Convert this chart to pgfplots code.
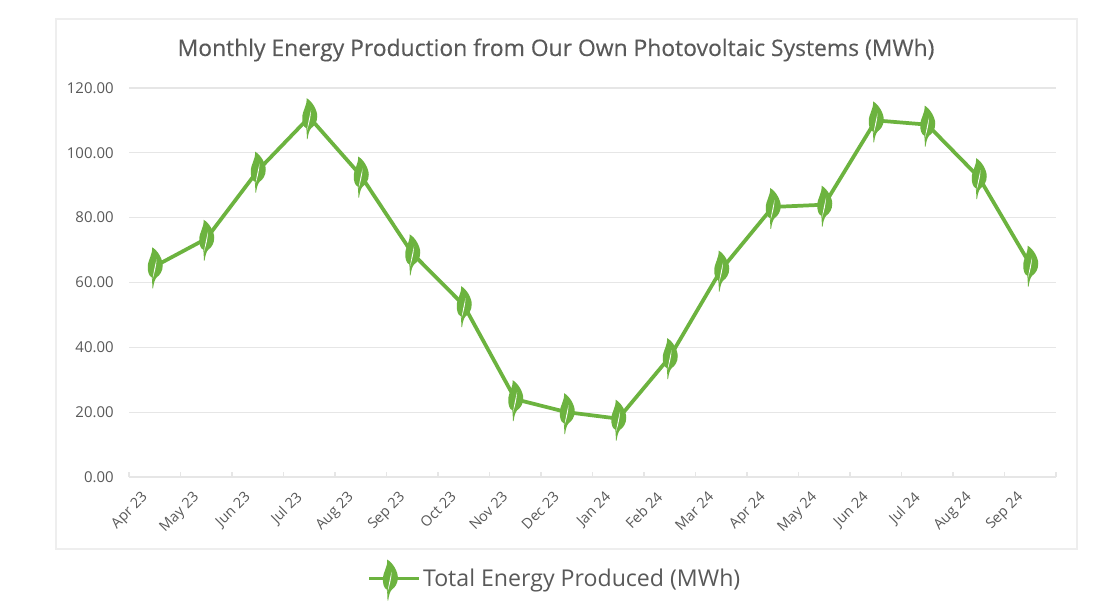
\documentclass[border=0pt]{standalone}
\usepackage{fontspec}
\usepackage{pgfplots}
\pgfplotsset{compat=1.18}
\setmainfont{Open Sans}
\definecolor{leafgreen}{HTML}{6CB33F}
\definecolor{txt}{HTML}{595959}
\definecolor{gridc}{HTML}{E6E6E6}
\definecolor{panel}{HTML}{EEEEEE}
\newcommand{\lp}[2]{\pgfpoint{#1*0.75pt}{#2*0.75pt}}
% leaf marker, coordinates in reference pixels around the data point
\pgfdeclareplotmark{leaf}{%
  \pgftransformshift{\lp{0}{-1}}%
  \pgfsetfillcolor{leafgreen}%
  \pgfpathmoveto{\lp{-2.7}{20}}%
  \pgfpathcurveto{\lp{3}{17}}{\lp{8}{8}}{\lp{8}{2}}%
  \pgfpathcurveto{\lp{8}{-4}}{\lp{5}{-8}}{\lp{2}{-10}}%
  \pgfpathcurveto{\lp{0}{-12}}{\lp{-1}{-16}}{\lp{-1.7}{-21}}%
  \pgfpathlineto{\lp{-2.3}{-21}}%
  \pgfpathcurveto{\lp{-2.5}{-17}}{\lp{-2.5}{-13}}{\lp{-3}{-10}}%
  \pgfpathcurveto{\lp{-6}{-9}}{\lp{-7}{-4}}{\lp{-7}{0}}%
  \pgfpathcurveto{\lp{-7}{8}}{\lp{-2}{12}}{\lp{-2.7}{20}}%
  \pgfpathclose
  \pgfusepathqfill
  \pgfsetfillcolor{white}%
  \pgfpathmoveto{\lp{1.8}{8}}%
  \pgfpathcurveto{\lp{1.5}{1}}{\lp{0}{-5}}{\lp{-2.2}{-12}}%
  \pgfpathcurveto{\lp{-1.2}{-5}}{\lp{0}{1}}{\lp{1.8}{8}}%
  \pgfpathclose
  \pgfusepathqfill
}
\begin{document}
\begin{tikzpicture}[x=0.75pt,y=0.75pt]
\useasboundingbox (0,0) rectangle (1110,613);
\fill[white] (0,0) rectangle (1110,613);
\draw[panel,line width=0.9pt] (56,64) rectangle (1077,594);
\node[text=txt,font=\fontsize{17.15pt}{21pt}\selectfont,anchor=center] at (556,563) {\addfontfeature{FakeBold=0.25}Monthly Energy Production from Our Own Photovoltaic Systems (MWh)};
\begin{axis}[
  at={(96.75pt,102pt)}, anchor=south west,
  scale only axis,
  width=695.25pt, height=291.75pt,
  xmin=-0.5, xmax=17.5, ymin=0, ymax=120,
  axis x line*=bottom, axis y line*=left,
  y axis line style={draw=none},
  x axis line style={gridc,line width=0.9pt,-},
  xtick={0,...,17},
  xticklabels={Apr 23,May 23,Jun 23,Jul 23,Aug 23,Sep 23,Oct 23,Nov 23,Dec 23,Jan 24,Feb 24,Mar 24,Apr 24,May 24,Jun 24,Jul 24,Aug 24,Sep 24},
  x tick label style={rotate=45,anchor=north east,font=\fontsize{10.8pt}{13pt}\selectfont,text=txt,inner sep=1pt,xshift=-13.5pt,yshift=1.5pt},
  major tick length=0pt,
  minor xtick={-0.5,0.5,...,17.5},
  minor tick length=4pt,
  minor tick style={gridc,line width=0.8pt},
  ytick={0,20,...,120},
  y tick label style={font=\fontsize{11.2pt}{13pt}\selectfont,text=txt,xshift=-8pt,/pgf/number format/.cd,fixed,fixed zerofill,precision=2,assume math mode=true},
  ymajorgrids=true,
  grid style={gridc,line width=0.8pt},
  clip=false,
  legend style={at={(0.2525,-0.265)},anchor=west,draw=none,fill=none,legend cell align=left,
    font=\fontsize{17.35pt}{21pt}\selectfont,text=txt},
  legend image code/.code={%
    \path (0pt,0pt) -- (37pt,0pt);
    \draw[leafgreen,line width=1.9pt] (0pt,0pt) -- (29pt,0pt);
    \pgftransformshift{\pgfpoint{15.5pt}{0pt}}%
    \pgfuseplotmark{leaf}%
  },
]
\addplot[color=leafgreen,line width=2.8pt,mark=leaf,mark options={solid}] coordinates {
(0,65) (1,73.5) (2,94.5) (3,111) (4,93) (5,69) (6,53) (7,24) (8,20) (9,18)
(10,37) (11,64) (12,83.3) (13,84) (14,110) (15,108.7) (16,92.5) (17,65.5)
};
\addlegendentry{Total Energy Produced (MWh)}
\end{axis}
\end{tikzpicture}
\end{document}
